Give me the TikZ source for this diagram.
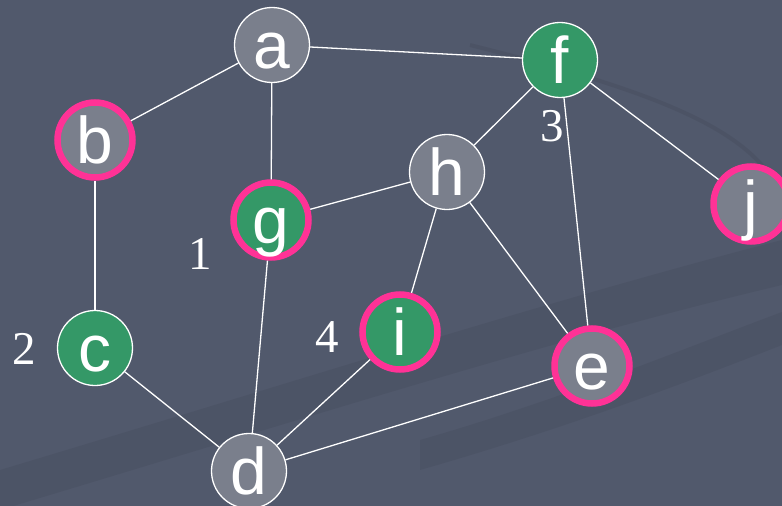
\documentclass[tikz,border=0pt]{standalone}
\usepackage{fontspec}
\setsansfont{Liberation Sans}
\newfontfamily\numfont{Liberation Serif}
\definecolor{background}{RGB}{81, 89, 108}
\definecolor{vertexgrey}{RGB}{122, 127, 140}
\definecolor{vertexgreen}{RGB}{52, 152, 103}
\definecolor{ringpink}{RGB}{255, 50, 150}
\usetikzlibrary{positioning}

\begin{document}
\begin{tikzpicture}[
            x=1pt, y=-1pt,
            vertex/.style={
                circle, inner sep=0pt,
                minimum size=75pt,
                draw=white, line width=1.3pt,
                fill=vertexgrey, text=white,
                font=\sffamily\fontsize{66}{66}\selectfont,
                text height=48pt, text depth=2pt
            },
            coloured/.style={fill=vertexgreen},
            marked/.style={draw=ringpink, line width=6.5pt},
            order/.style={text=white, font=\numfont\fontsize{47}{47}\selectfont},
            edge/.style={draw=white, line width=1.3pt},
            band/.style={fill=black, opacity=0.05},
        ]

            \useasboundingbox (0,0) rectangle (782,506);
            \clip (0,0) rectangle (782,506);
            \fill[background] (0,0) rectangle (782,506);
            \fill[band] (0,470) .. controls (300,380) and (550,300) .. (782,240)
                -- (782,285) .. controls (550,340) and (300,420) .. (0,510) -- cycle;
            \fill[band] (420,440) .. controls (560,400) and (680,350) .. (782,312)
                -- (782,345) .. controls (680,385) and (560,430) .. (420,470) -- cycle;
            \draw[black, opacity=0.06, line width=4pt] (470,45) .. controls (650,90) and (760,130) .. (782,200);

            \node [vertex] (a) at (272,45)  {a};
            \node [vertex, marked] (b) at (95,140) {b};
            \node [vertex, coloured] (c) at (95,348) {c};
            \node [vertex] (d) at (249,471) {d};
            \node [vertex, marked] (e) at (592,366) {e};
            \node [vertex, coloured] (f) at (560,60) {f};
            \node [vertex, coloured, marked] (g) at (271,220) {g};
            \node [vertex] (h) at (447,172) {h};
            \node [vertex, coloured, marked] (i) at (400,332) {i};
            \node [vertex, marked] (j) at (751,204) {j};

            \node [order] (order1) at (200,254) {1};
            \node [order] (order2) at (24,349)  {2};
            \node [order] (order3) at (552,126) {3};
            \node [order] (order4) at (327,337) {4};

            \foreach \u/\v in {a/b, a/f, a/g, b/c, c/d, d/g, d/i, d/e, g/h, h/f, h/i, h/e, f/e, f/j}
                \draw[edge] (\u) -- (\v);

        \end{tikzpicture}
\end{document}
